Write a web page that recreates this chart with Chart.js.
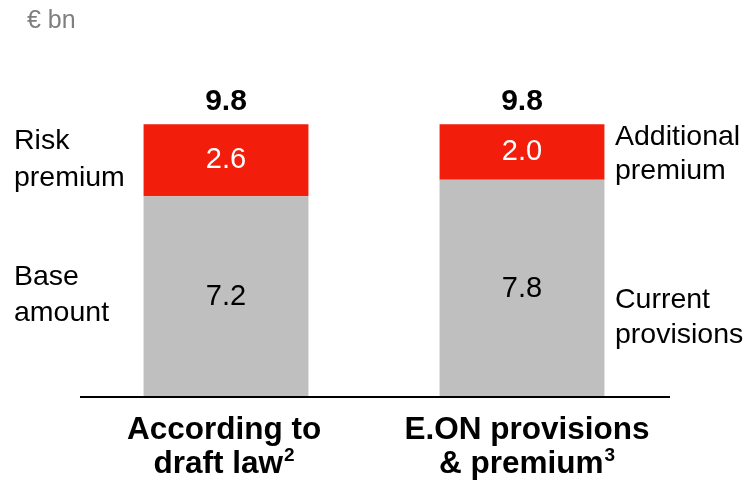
<!DOCTYPE html>
<html>
<head>
<meta charset="utf-8">
<script src="https://cdn.jsdelivr.net/npm/chart.js"></script>
<style>
  html, body { margin: 0; padding: 0; background: #fff; }
  #wrap { width: 750px; height: 485px; position: relative; }
</style>
</head>
<body>
<div id="wrap"><canvas id="provChart"></canvas></div>
<script>
const categories = ["According to draft law", "E.ON provisions & premium"];
const categoryLines = [["According to", "draft law"], ["E.ON provisions", "& premium"]];
const footnotes = ["2", "3"];
const baseValues = [7.2, 7.8];
const premiumValues = [2.6, 2.0];
const leftLabels = { base: ["Base", "amount"], premium: ["Risk", "premium"] };
const rightLabels = { base: ["Current", "provisions"], premium: ["Additional", "premium"] };
const unitLabel = "€ bn";

const FONT = "'Liberation Sans', Arial, sans-serif";
const RED = "#f21d0b";
const GREY = "#bfbfbf";
const labelShift = [-2, 5];

function drawLines(ctx, lines, x, yMid, lineH) {
    const start = yMid - (lines.length - 1) * lineH / 2;
    lines.forEach((l, i) => ctx.fillText(l, x, start + i * lineH));
}

// labels, axis line and category names
const labelPlugin = {
    id: "labels",
    afterDatasetsDraw(chart) {
        const ctx = chart.ctx;
        const area = chart.chartArea;
        const yScale = chart.scales.y;
        const xScale = chart.scales.x;
        const baseMeta = chart.getDatasetMeta(0);
        const premMeta = chart.getDatasetMeta(1);
        ctx.save();

        // baseline
        ctx.strokeStyle = "#000";
        ctx.lineWidth = 2;
        ctx.beginPath();
        ctx.moveTo(area.left + 2, area.bottom + 1);
        ctx.lineTo(area.right, area.bottom + 1);
        ctx.stroke();

        // unit
        ctx.fillStyle = "#7f7f7f";
        ctx.font = "25px " + FONT;
        ctx.textAlign = "left";
        ctx.textBaseline = "middle";
        ctx.fillText(unitLabel, 27, 21);

        for (let i = 0; i < categories.length; i++) {
            const b = baseMeta.data[i];
            const p = premMeta.data[i];
            const baseMid = (b.y + b.base) / 2;
            const premMid = (p.y + p.base) / 2;

            ctx.textAlign = "center";
            ctx.textBaseline = "middle";
            ctx.font = "29px " + FONT;
            ctx.fillStyle = "#000";
            ctx.fillText(baseValues[i].toFixed(1), b.x, baseMid + 1);
            ctx.fillStyle = "#fff";
            ctx.fillText(premiumValues[i].toFixed(1), p.x, premMid);

            const total = baseValues[i] + premiumValues[i];
            ctx.fillStyle = "#000";
            ctx.font = "bold 30px " + FONT;
            ctx.fillText(total.toFixed(1), p.x, yScale.getPixelForValue(total) - 23);

            // category name, second line carries a footnote mark
            const cx = xScale.getPixelForValue(i) + labelShift[i];
            const lines = categoryLines[i];
            ctx.font = "bold 31.5px " + FONT;
            ctx.fillText(lines[0], cx, 430);
            const w = ctx.measureText(lines[1]).width;
            ctx.font = "bold 19px " + FONT;
            const sw = ctx.measureText(footnotes[i]).width;
            const startX = cx - (w + sw + 1) / 2;
            ctx.textAlign = "left";
            ctx.font = "bold 31.5px " + FONT;
            ctx.fillText(lines[1], startX, 464);
            ctx.font = "bold 19px " + FONT;
            ctx.fillText(footnotes[i], startX + w + 1, 456);
        }

        // side labels
        ctx.font = "28.5px " + FONT;
        ctx.fillStyle = "#000";
        ctx.textAlign = "left";
        ctx.textBaseline = "middle";
        const b0 = baseMeta.data[0], p0 = premMeta.data[0];
        drawLines(ctx, leftLabels.premium, 14, (p0.y + p0.base) / 2 - 1, 37);
        drawLines(ctx, leftLabels.base, 14, (b0.y + b0.base) / 2 - 1, 36);
        const b1 = baseMeta.data[1], p1 = premMeta.data[1];
        drawLines(ctx, rightLabels.premium, 615, (p1.y + p1.base) / 2 + 2, 34);
        drawLines(ctx, rightLabels.base, 615, (b1.y + b1.base) / 2 + 30, 35);

        ctx.restore();
    }
};

new Chart(document.getElementById("provChart"), {
    type: "bar",
    data: {
        labels: categories,
        datasets: [
            { label: "Base", data: baseValues, backgroundColor: GREY },
            { label: "Premium", data: premiumValues, backgroundColor: RED }
        ]
    },
    options: {
        responsive: true,
        maintainAspectRatio: false,
        animation: false,
        layout: { padding: { left: 78, right: 80, top: 91, bottom: 89 } },
        datasets: { bar: { barPercentage: 0.557, categoryPercentage: 1 } },
        plugins: { legend: { display: false }, tooltip: { enabled: false } },
        scales: {
            x: { stacked: true, display: false },
            y: { stacked: true, display: false, min: 0, max: 11 }
        }
    },
    plugins: [labelPlugin]
});
</script>
</body>
</html>
